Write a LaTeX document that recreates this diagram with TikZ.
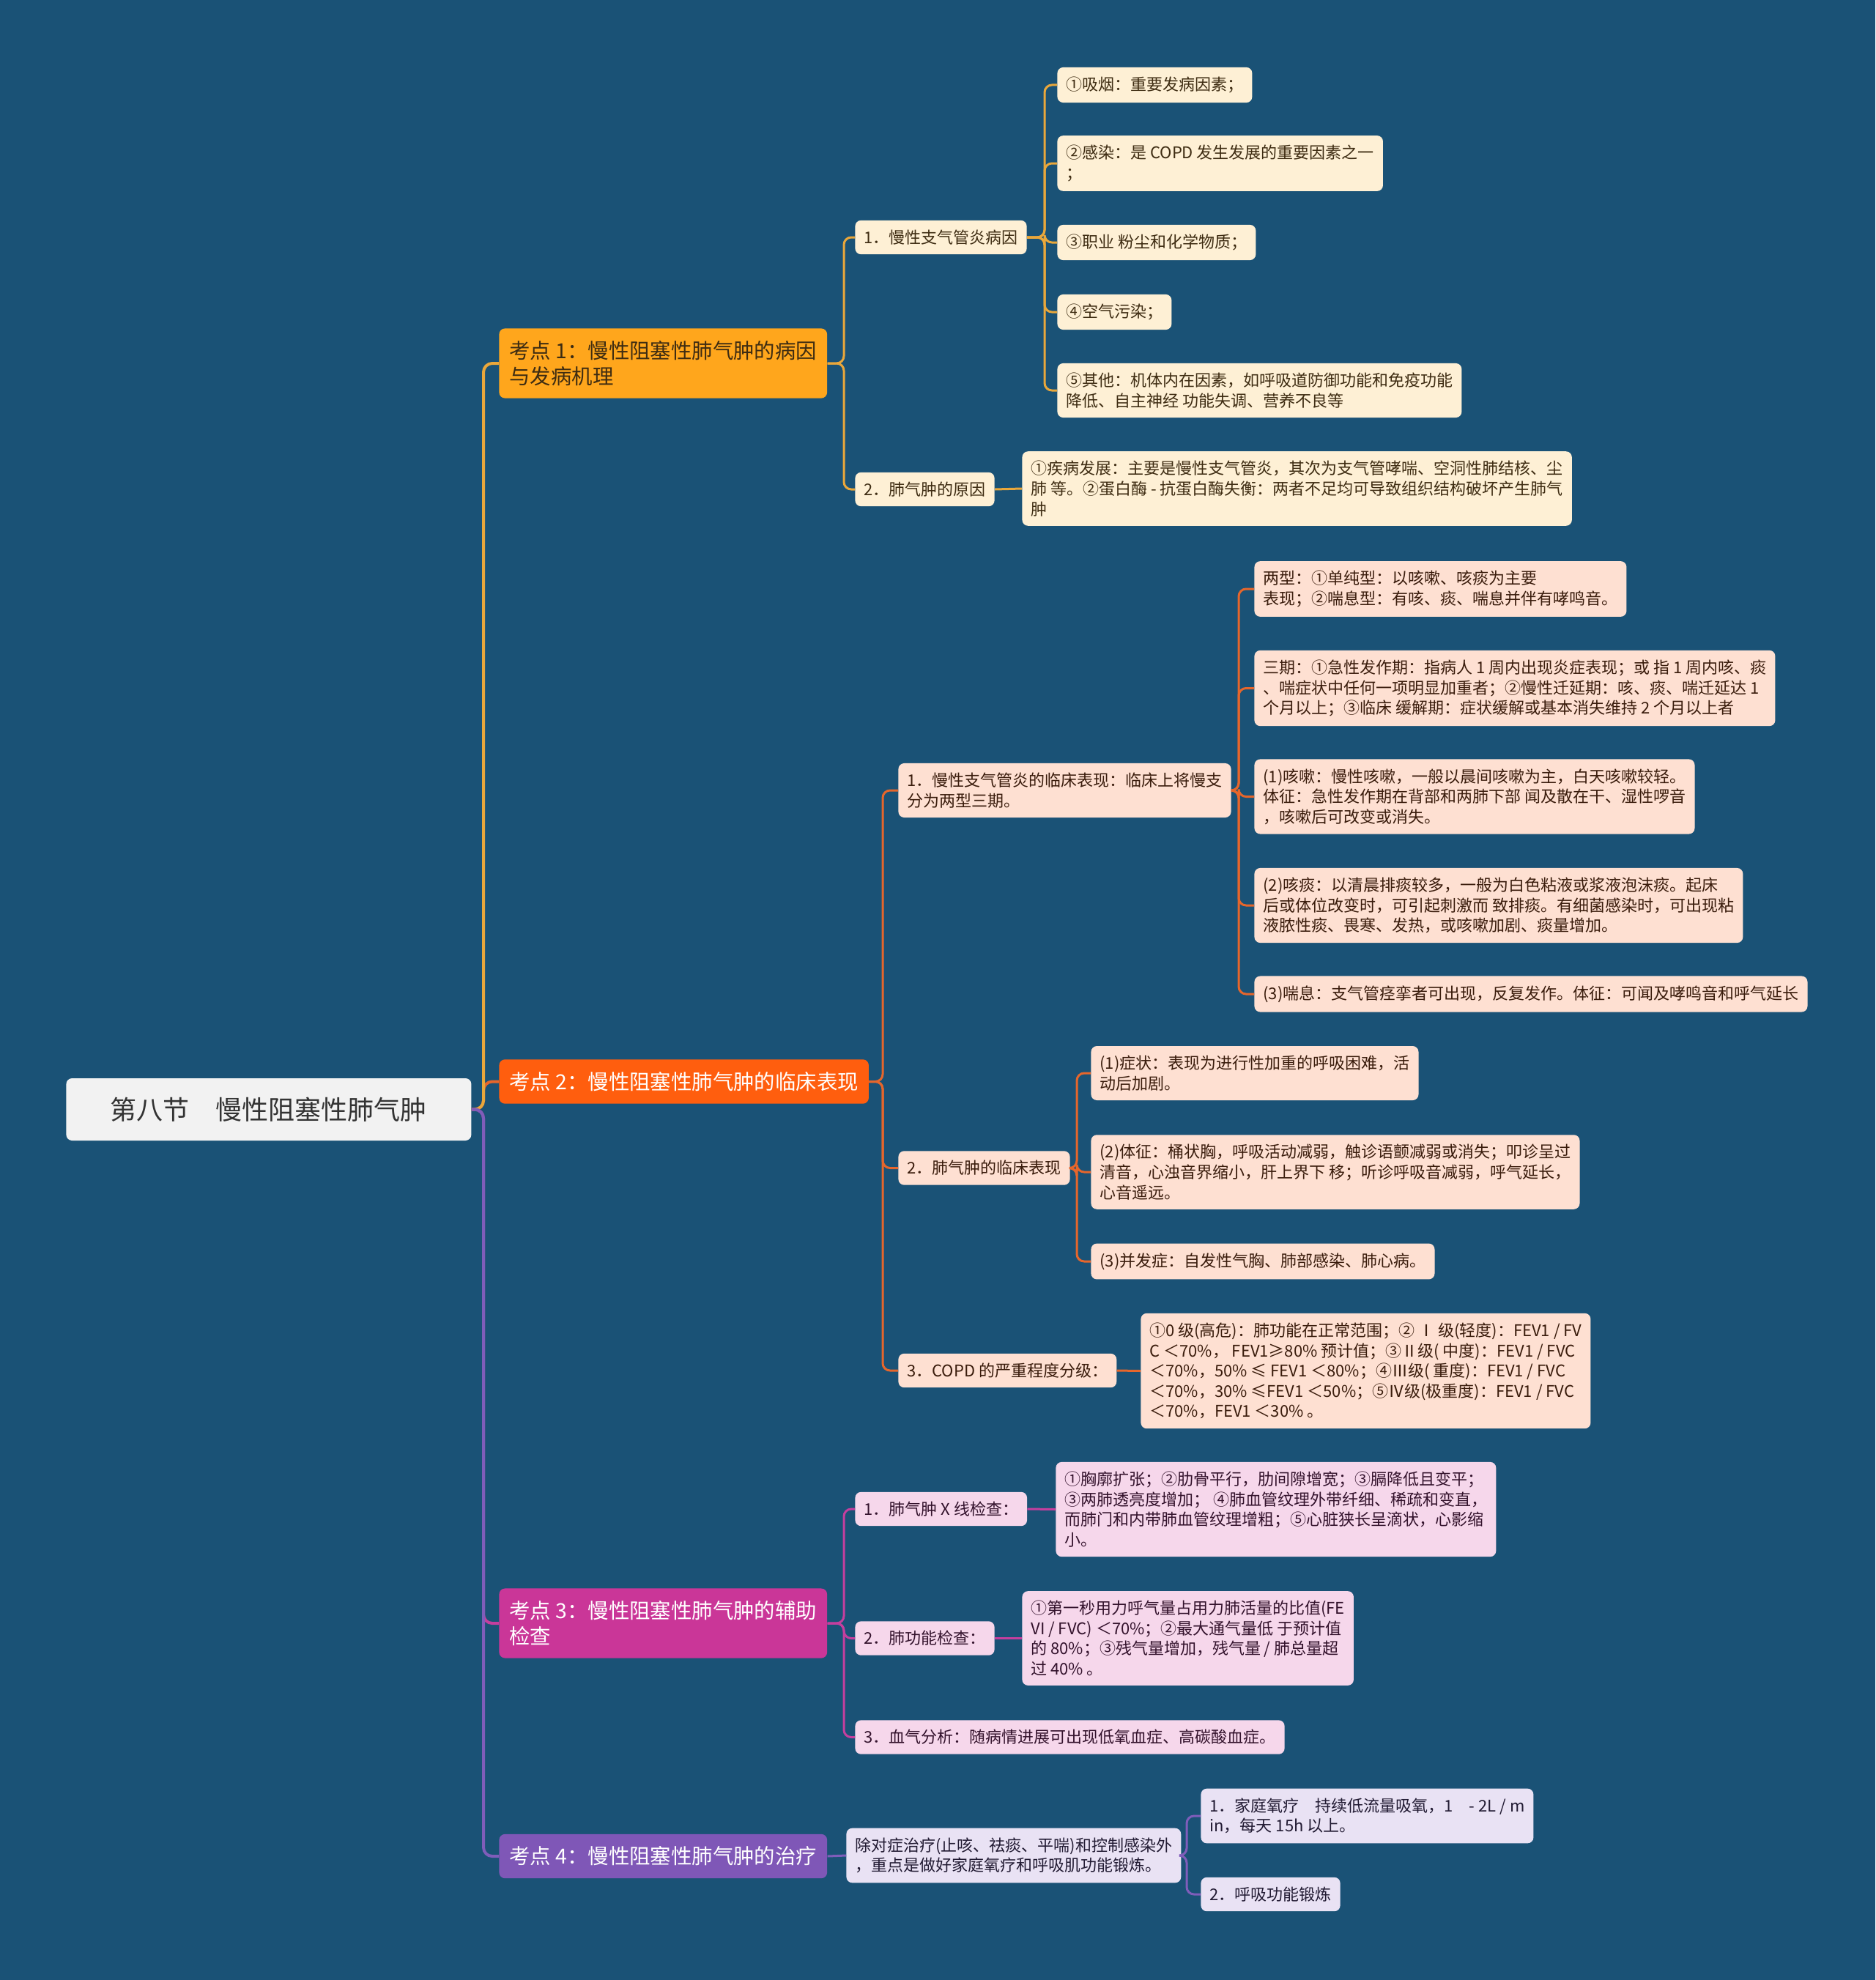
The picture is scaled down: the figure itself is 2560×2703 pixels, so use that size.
\documentclass[tikz,border=0pt]{standalone}
\usepackage{fontspec}
\setmainfont{Noto Sans CJK SC}
\definecolor{bgBlue}{HTML}{1A5276}
\definecolor{rootGray}{HTML}{F2F2F2}
\definecolor{goldLine}{HTML}{E9A73B}
\definecolor{goldFill}{HTML}{FFA61C}
\definecolor{goldLeaf}{HTML}{FEF0D5}
\definecolor{goldText}{HTML}{3E2C12}
\definecolor{emberLine}{HTML}{E5662C}
\definecolor{emberFill}{HTML}{FF5E0E}
\definecolor{emberLeaf}{HTML}{FEE0D2}
\definecolor{emberText}{HTML}{3A1C0C}
\definecolor{rubyLine}{HTML}{C43F9E}
\definecolor{rubyFill}{HTML}{CA3698}
\definecolor{rubyLeaf}{HTML}{F6D7EB}
\definecolor{rubyText}{HTML}{33122C}
\definecolor{plumLine}{HTML}{7F5DBA}
\definecolor{plumFill}{HTML}{7F57B7}
\definecolor{plumLeaf}{HTML}{E9E2F4}
\definecolor{plumText}{HTML}{221B33}

\begin{document}
\begin{tikzpicture}[
    x=0.5pt, y=-0.5pt,
    rootbox/.style={rectangle, rounded corners=4pt, fill=rootGray, text=black!80,
                    font=\fontsize{18}{22}\selectfont, minimum width=276.5pt,
                    minimum height=42.5pt, anchor=west},
    topic/.style={rectangle, rounded corners=4pt, font=\fontsize{14.2}{17.4}\selectfont,
                  align=left, inner xsep=7pt, inner ysep=8.5pt, anchor=west},
    leaf/.style={rectangle, rounded corners=4pt, font=\fontsize{11}{13.8}\selectfont,
                 align=left, inner xsep=6pt, inner ysep=6.5pt, anchor=west},
    causeleaf/.style={leaf, fill=goldLeaf, text=goldText},
    signleaf/.style={leaf, fill=emberLeaf, text=emberText},
    examleaf/.style={leaf, fill=rubyLeaf, text=rubyText},
    careleaf/.style={leaf, fill=plumLeaf, text=plumText},
    trunk/.style={line width=2pt, rounded corners=6pt},
    link/.style={line width=1.5pt, rounded corners=5pt},
  ]
    % Fondo
    \fill[bgBlue] (0,0) rectangle (2560,2703);
    \useasboundingbox (0,0) rectangle (2560,2703);

    % Raiz
    \node[rootbox] (root) at (90,1514.5) {第八节　慢性阻塞性肺气肿};

    % Temas
    \node[topic, fill=goldFill, text=goldText] (T1) at (681,496) {考点 1：慢性阻塞性肺气肿的病因\\与发病机理};
    \node[topic, fill=emberFill, text=white] (T2) at (681,1476.5) {考点 2：慢性阻塞性肺气肿的临床表现};
    \node[topic, fill=rubyFill, text=white] (T3) at (681,2216) {考点 3：慢性阻塞性肺气肿的辅助\\检查};
    \node[topic, fill=plumFill, text=white] (T4) at (681,2534) {考点 4：慢性阻塞性肺气肿的治疗};

    % Tema 1
    \node[causeleaf] (A1) at (1167,324) {1．慢性支气管炎病因};
    \node[causeleaf] (A2) at (1167,668) {2．肺气肿的原因};
    \node[causeleaf] (a1) at (1443,116) {①吸烟：重要发病因素；};
    \node[causeleaf] (a2) at (1443,223) {②感染：是 COPD 发生发展的重要因素之一\\；};
    \node[causeleaf] (a3) at (1443,331) {③职业 粉尘和化学物质；};
    \node[causeleaf] (a4) at (1443,426) {④空气污染；};
    \node[causeleaf] (a5) at (1443,533) {⑤其他：机体内在因素，如呼吸道防御功能和免疫功能\\降低、自主神经 功能失调、营养不良等};
    \node[causeleaf] (b1) at (1395,667) {①疾病发展：主要是慢性支气管炎，其次为支气管哮喘、空洞性肺结核、尘\\肺 等。②蛋白酶 - 抗蛋白酶失衡：两者不足均可导致组织结构破坏产生肺气\\肿};

    % Tema 2
    \node[signleaf] (B1) at (1226,1079) {1．慢性支气管炎的临床表现：临床上将慢支\\分为两型三期。};
    \node[signleaf] (B2) at (1226,1594.5) {2．肺气肿的临床表现};
    \node[signleaf] (B3) at (1226,1871) {3．COPD 的严重程度分级：};
    \node[signleaf] (c1) at (1712,804) {两型：①单纯型：以咳嗽、咳痰为主要\\表现；②喘息型：有咳、痰、喘息并伴有哮鸣音。};
    \node[signleaf] (c2) at (1712,939.5) {三期：①急性发作期：指病人 1 周内出现炎症表现；或 指 1 周内咳、痰\\、喘症状中任何一项明显加重者；②慢性迁延期：咳、痰、喘迁延达 1\\个月以上；③临床 缓解期：症状缓解或基本消失维持 2 个月以上者};
    \node[signleaf] (c3) at (1712,1087.5) {(1)咳嗽：慢性咳嗽，一般以晨间咳嗽为主，白天咳嗽较轻。\\体征：急性发作期在背部和两肺下部 闻及散在干、湿性啰音\\，咳嗽后可改变或消失。};
    \node[signleaf] (c4) at (1712,1236) {(2)咳痰：以清晨排痰较多，一般为白色粘液或浆液泡沫痰。起床\\后或体位改变时，可引起刺激而 致排痰。有细菌感染时，可出现粘\\液脓性痰、畏寒、发热，或咳嗽加剧、痰量增加。};
    \node[signleaf] (c5) at (1712,1357) {(3)喘息：支气管痉挛者可出现，反复发作。体征：可闻及哮鸣音和呼气延长};
    \node[signleaf] (d1) at (1489,1465) {(1)症状：表现为进行性加重的呼吸困难，活\\动后加剧。};
    \node[signleaf] (d2) at (1489,1600) {(2)体征：桶状胸，呼吸活动减弱，触诊语颤减弱或消失；叩诊呈过\\清音，心浊音界缩小，肝上界下 移；听诊呼吸音减弱，呼气延长，\\心音遥远。};
    \node[signleaf] (d3) at (1489,1722) {(3)并发症：自发性气胸、肺部感染、肺心病。};
    \node[signleaf] (e1) at (1557,1871.5) {①0 级(高危)：肺功能在正常范围；② Ⅰ 级(轻度)：FEV1 / FV\\C ＜70\%， FEV1≥80\% 预计值；③Ⅱ级( 中度)：FEV1 / FVC\\ ＜70\%，50\% ≤ FEV1 ＜80\%；④Ⅲ级( 重度)：FEV1 /  FVC\\ ＜70\%，30\% ≤FEV1 ＜50\%；⑤Ⅳ级(极重度)：FEV1 / FVC\\ ＜70\%，FEV1 ＜30\% 。};

    % Tema 3
    \node[examleaf] (C1) at (1167,2060) {1．肺气肿 X 线检查：};
    \node[examleaf] (C2) at (1167,2236.5) {2．肺功能检查：};
    \node[examleaf] (C3) at (1167,2371.5) {3．血气分析：随病情进展可出现低氧血症、高碳酸血症。};
    \node[examleaf] (f1) at (1441,2060.5) {①胸廓扩张；②肋骨平行，肋间隙增宽；③膈降低且变平；\\③两肺透亮度增加； ④肺血管纹理外带纤细、稀疏和变直，\\而肺门和内带肺血管纹理增粗；⑤心脏狭长呈滴状，心影缩\\小。};
    \node[examleaf] (g1) at (1395,2236.5) {①第一秒用力呼气量占用力肺活量的比值(FE\\VI / FVC) ＜70\%；②最大通气量低 于预计值\\的 80\%；③残气量增加，残气量 / 肺总量超\\过 40\% 。};

    % Tema 4
    \node[careleaf] (D1) at (1155,2533) {除对症治疗(止咳、祛痰、平喘)和控制感染外\\，重点是做好家庭氧疗和呼吸肌功能锻炼。};
    \node[careleaf] (h1) at (1639,2479) {1．家庭氧疗　持续低流量吸氧，1　- 2L / m\\in，每天 15h 以上。};
    \node[careleaf] (h2) at (1639,2586) {2．呼吸功能锻炼};

    % Uniones
    \coordinate (jR) at (660,1514.5);
    \coordinate (j1) at (1152,496);
    \coordinate (jA) at (1426,324);
    \coordinate (j2) at (1205,1476.5);
    \coordinate (jB) at (1691,1079);
    \coordinate (jD) at (1470,1594.5);
    \coordinate (j3) at (1152,2216);
    \coordinate (jH) at (1620,2533);

    % Conectores de la raiz
    \draw[trunk, emberLine] (root.east) -- (jR) |- (T2.west);
    \draw[trunk, goldLine] (root.east) -- (jR) |- (T1.west);
    \draw[trunk, rubyLine] (root.east) -- (jR) |- (T3.west);
    \draw[trunk, plumLine] (root.east) -- (jR) |- (T4.west);

    % Conectores tema 1
    \foreach \n in {A1, A2} \draw[link, goldLine] (T1.east) -- (j1) |- (\n.west);
    \foreach \n in {a1, a2, a3, a4, a5} \draw[link, goldLine] (A1.east) -- (jA) |- (\n.west);
    \draw[link, goldLine] (A2.east) -- (b1.west);

    % Conectores tema 2
    \foreach \n in {B1, B2, B3} \draw[link, emberLine] (T2.east) -- (j2) |- (\n.west);
    \foreach \n in {c1, c2, c3, c4, c5} \draw[link, emberLine] (B1.east) -- (jB) |- (\n.west);
    \foreach \n in {d1, d2, d3} \draw[link, emberLine] (B2.east) -- (jD) |- (\n.west);
    \draw[link, emberLine] (B3.east) -- (e1.west);

    % Conectores tema 3
    \foreach \n in {C1, C2, C3} \draw[link, rubyLine] (T3.east) -- (j3) |- (\n.west);
    \draw[link, rubyLine] (C1.east) -- (f1.west);
    \draw[link, rubyLine] (C2.east) -- (g1.west);

    % Conectores tema 4
    \draw[link, plumLine] (T4.east) -- (D1.west);
    \foreach \n in {h1, h2} \draw[link, plumLine] (D1.east) -- (jH) |- (\n.west);
  \end{tikzpicture}
\end{document}
